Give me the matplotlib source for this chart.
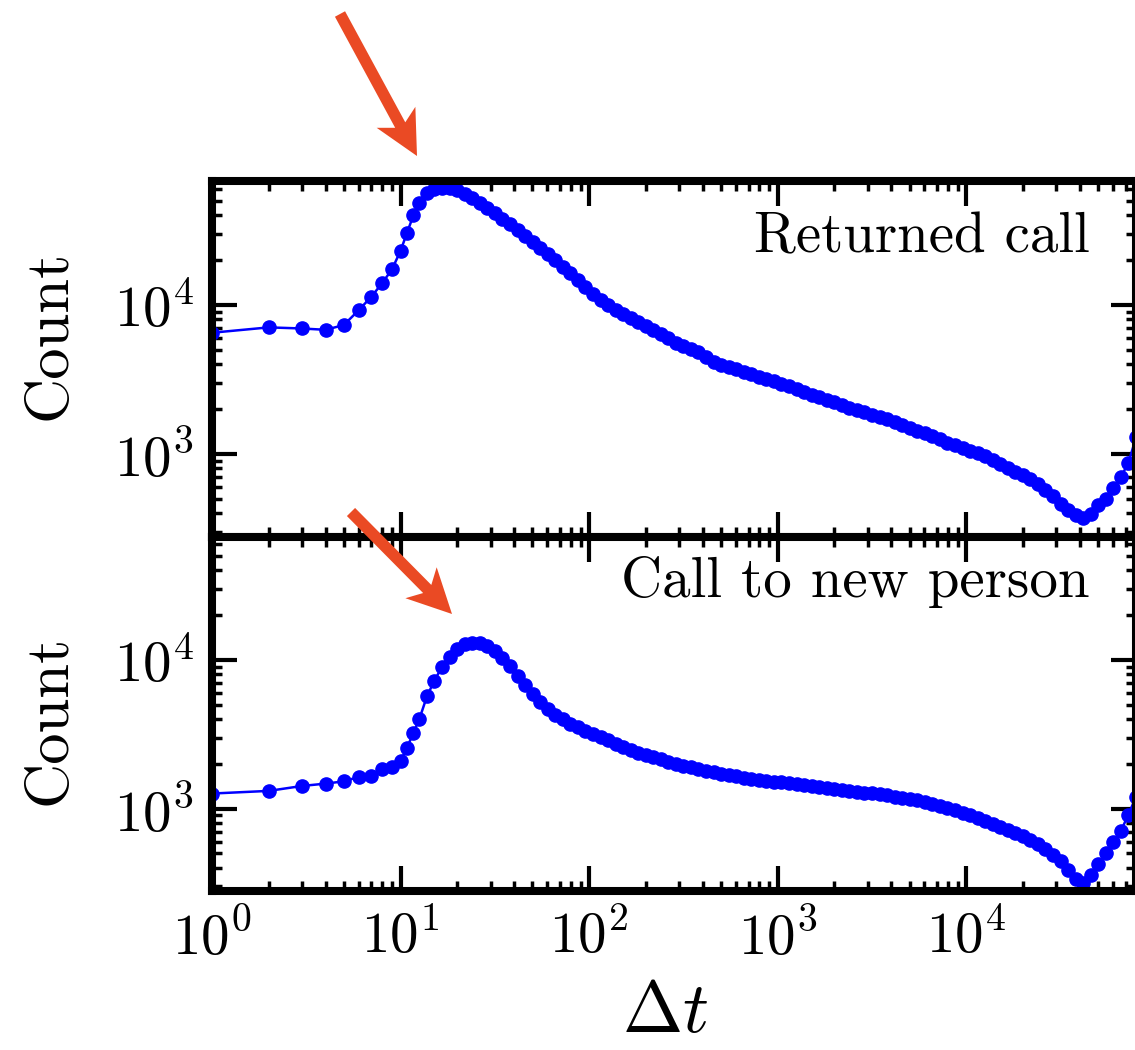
import matplotlib
matplotlib.use('Agg')
import matplotlib.pyplot as plt
from matplotlib import rcParams
from matplotlib.patches import FancyArrow

# inter-event time bins (log binned above ~10)
dt = [1, 2, 3, 4, 5, 6, 7, 8, 9, 10, 10.8, 11.7, 12.6,
      13.8, 15.1, 16.6, 18.2, 20.0, 21.9, 24.0, 26.3, 28.8, 31.6,
      34.7, 38.0, 41.7, 45.7, 50.1, 55.0, 60.3, 66.1, 72.4, 79.4,
      87.1, 95.5, 105, 115, 126, 138, 151, 166, 182, 200,
      219, 240, 263, 288, 316, 347, 380, 417, 457, 501,
      550, 603, 661, 724, 794, 871, 955, 1047, 1148, 1259,
      1380, 1514, 1660, 1820, 1995, 2188, 2399, 2630, 2884, 3162,
      3467, 3802, 4169, 4571, 5012, 5495, 6026, 6607, 7244, 7943,
      8710, 9550, 10471, 11482, 12589, 13804, 15136, 16596, 18197, 19953,
      21878, 23988, 26303, 28840, 31623, 34674, 38019, 41687, 45709, 50119,
      54954, 60256, 66069, 72444, 79433]

returned = [6490, 7050, 6930, 6790, 7310, 9200, 11320, 14000, 17260, 23010,
            30200, 39810, 47860,
            56230, 59570, 60530, 60530, 58880, 55590, 51880, 48420, 44670, 41210,
            37840, 34670, 31620, 28840, 26300, 23990, 21880, 19950, 17990, 16220,
            14620, 13180, 11890, 10840, 10000, 9290, 8710, 8130, 7620, 7180,
            6760, 6340, 5940, 5560, 5270, 5080, 4840, 4450, 4130, 3945,
            3800, 3700, 3550, 3410, 3300, 3180, 3080, 2950, 2830, 2720,
            2600, 2490, 2390, 2300, 2210, 2120, 2040, 1970, 1900, 1830,
            1770, 1700, 1630, 1560, 1490, 1430, 1370, 1310, 1250, 1190,
            1140, 1100, 1050, 1010, 964, 908, 855, 805, 759, 716,
            676, 631, 575, 519, 462, 422, 391, 374, 394, 452,
            501, 589, 700, 871, 1288]

new_person = [1262, 1315, 1419, 1472, 1524, 1633, 1656, 1841, 1897, 2089,
              2553, 3236, 4027,
              5689, 7244, 8974, 10470, 11750, 12710, 13000, 12940, 12360, 11560,
              10350, 9120, 7850, 6760, 5860, 5190, 4660, 4270, 3980, 3730,
              3510, 3330, 3160, 3020, 2870, 2720, 2580, 2470, 2370, 2290,
              2210, 2140, 2070, 2000, 1940, 1890, 1845, 1800, 1760, 1720,
              1680, 1645, 1615, 1590, 1565, 1540, 1515, 1500, 1480, 1460,
              1440, 1420, 1400, 1380, 1360, 1340, 1320, 1300, 1280, 1265,
              1245, 1225, 1200, 1180, 1160, 1135, 1110, 1080, 1047, 1014,
              977, 940, 902, 863, 826, 789, 753, 718, 685, 652,
              617, 578, 535, 490, 442, 385, 335, 316, 355, 427,
              501, 596, 708, 912, 1202]

panel_labels = ["Returned call", "Call to new person"]

rcParams['font.family'] = 'serif'
rcParams['font.serif'] = ['cmr10']
rcParams['mathtext.fontset'] = 'cm'
rcParams['axes.formatter.use_mathtext'] = True
rcParams['axes.unicode_minus'] = False

fig = plt.figure(figsize=(11.35, 10.5), dpi=100)
W, H = 1135., 1050.
left = 212 / W
width = (1136 - 212) / W
ax1 = fig.add_axes([left, 1 - 536.5 / H, width, 355.5 / H])
ax2 = fig.add_axes([left, 1 - 891 / H, width, 354.5 / H], sharex=ax1)

label_y = [0.800, 0.829]
ylabel_pos = [0.567, 0.482]

for i, (ax, counts) in enumerate([(ax1, returned), (ax2, new_person)]):
    ax.plot(dt, counts, '-o', color='#0000ff', lw=1.8, ms=9.5, mec='#0000ff')
    ax.set_xscale('log')
    ax.set_yscale('log')
    ax.set_ylim(279, 67600)
    ax.set_ylabel('Count', fontsize=45)
    ax.yaxis.set_label_coords(-0.146, ylabel_pos[i])
    for s in ax.spines.values():
        s.set_linewidth(5.8)
    ax.tick_params(which='both', direction='in', top=True, right=True)
    ax.tick_params(which='major', length=18, width=3, labelsize=41, pad=13)
    ax.tick_params(which='minor', length=7, width=2.5)
    ax.text(0.950, label_y[i], panel_labels[i], transform=ax.transAxes,
            ha='right', va='baseline', fontsize=41)

ax1.set_xlim(1, 79433)
ax1.tick_params(labelbottom=False)
ax2.set_xlabel(r'$\Delta t$', fontsize=52)
ax2.xaxis.set_label_coords(0.49, -0.255)

# arrows pointing at the peaks (figure pixels -> inches)
arrow_color = '#ea4a24'
for (x0, y0, x1, y1) in [(340, 14, 417, 156), (351, 512, 452, 614)]:
    a = FancyArrow(x0 / 100., (H - y0) / 100., (x1 - x0) / 100., (y0 - y1) / 100.,
                   width=0.115, head_width=0.44, head_length=0.44,
                   length_includes_head=True, overhang=0.2,
                   color=arrow_color, lw=0, transform=fig.dpi_scale_trans)
    fig.patches.append(a)

plt.savefig('out.png', dpi=100)
